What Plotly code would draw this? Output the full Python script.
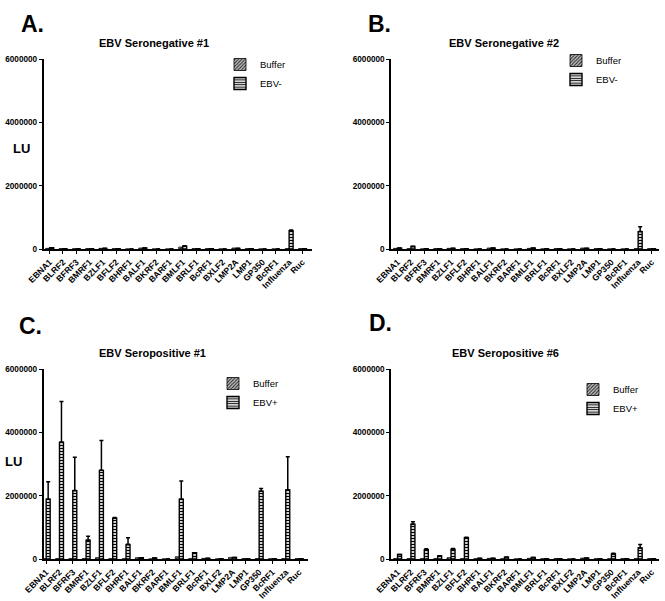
import plotly.graph_objects as go

categories = ["EBNA1", "BLRF2", "BFRF3", "BMRF1", "BZLF1", "BFLF2", "BHRF1", "BALF1",
              "BKRF2", "BARF1", "BMLF1", "BRLF1", "BcRF1", "BXLF2", "LMP2A", "LMP1",
              "GP350", "BcRF1", "Influenza", "Ruc"]

# Panel A: EBV Seronegative #1
buffer_A = [20000, 10000, 5000, 10000, 20000, 10000, 0, 30000, 0, 0,
            60000, 10000, 10000, 0, 30000, 10000, 0, 0, 10000, 10000]
ebv_A = [40000, 10000, 5000, 10000, 20000, 10000, 0, 30000, 0, 0,
         90000, 10000, 10000, 0, 20000, 10000, 0, 0, 580000, 10000]
err_A = [0, 0, 0, 0, 0, 0, 0, 0, 0, 0, 10000, 0, 0, 0, 0, 0, 0, 0, 20000, 0]

# Panel B: EBV Seronegative #2
buffer_B = [20000, 10000, 0, 10000, 20000, 10000, 0, 30000, 0, 0,
            20000, 0, 10000, 0, 30000, 10000, 0, 0, 10000, 10000]
ebv_B = [30000, 80000, 5000, 10000, 20000, 5000, 0, 30000, 0, 0,
         30000, 5000, 10000, 0, 20000, 10000, 0, 0, 550000, 10000]
err_B = [0, 10000, 0, 0, 0, 0, 0, 0, 0, 0, 0, 0, 0, 0, 0, 0, 0, 0, 150000, 0]

# Panel C: EBV Seropositive #1
buffer_C = [10000, 10000, 10000, 10000, 40000, 10000, 5000, 40000, 0, 0,
            70000, 10000, 20000, 0, 50000, 10000, 10000, 5000, 10000, 10000]
ebv_C = [1890000, 3690000, 2160000, 590000, 2800000, 1290000, 460000, 40000, 30000, 0,
         1890000, 200000, 20000, 5000, 50000, 10000, 2140000, 5000, 2180000, 10000]
err_C = [550000, 1280000, 1050000, 130000, 940000, 20000, 210000, 0, 0, 0,
         570000, 0, 0, 0, 0, 0, 90000, 0, 1050000, 0]

# Panel D: EBV Seropositive #6
buffer_D = [10000, 10000, 10000, 10000, 40000, 10000, 5000, 20000, 5000, 0,
            20000, 5000, 10000, 0, 30000, 5000, 5000, 10000, 10000, 10000]
ebv_D = [140000, 1100000, 290000, 100000, 310000, 670000, 20000, 20000, 60000, 0,
         50000, 5000, 10000, 0, 30000, 5000, 160000, 5000, 350000, 10000]
err_D = [0, 80000, 30000, 0, 20000, 20000, 0, 0, 0, 0,
         0, 0, 0, 0, 0, 0, 20000, 0, 110000, 0]

y_ticks = [0, 2000000, 4000000, 6000000]

W, H = 665, 601
FONT = "Arial, Liberation Sans, sans-serif"


def px(x):
    return x / W


def py(y):
    return 1 - y / H


panels = [
    dict(key="", buf=buffer_A, ebv=ebv_A, err=err_A, name="EBV-", title="EBV Seronegative #1",
         letter="A.", x0=43.5, x1=312, y0=59, y1=249, r0=-0.465, r1=19.72,
         leg=(220, 50), letpos=(32, 24), titlepos=(154, 43), lu=(22, 148)),
    dict(key="2", buf=buffer_B, ebv=ebv_B, err=err_B, name="EBV-", title="EBV Seronegative #2",
         letter="B.", x0=391, x1=659, y0=59, y1=249, r0=-0.49, r1=19.56,
         leg=(556, 46), letpos=(379, 24), titlepos=(504, 43), lu=None),
    dict(key="3", buf=buffer_C, ebv=ebv_C, err=err_C, name="EBV+", title="EBV Seropositive #1",
         letter="C.", x0=43.5, x1=308, y0=369, y1=559, r0=-0.2, r1=19.67,
         leg=(213, 369), letpos=(30, 326), titlepos=(152, 353), lu=(13, 461)),
    dict(key="4", buf=buffer_D, ebv=ebv_D, err=err_D, name="EBV+", title="EBV Seropositive #6",
         letter="D.", x0=391, x1=659, y0=369, y1=559, r0=-0.49, r1=19.56,
         leg=(573, 375), letpos=(380, 323), titlepos=(505, 353), lu=None),
]

fig = go.Figure()
annotations = []
layout = {}
xs = list(range(len(categories)))

for i, p in enumerate(panels):
    k = p["key"]
    xa = "x" + k
    ya = "y" + k
    legname = "legend" + k
    fig.add_trace(go.Bar(
        x=xs, y=p["buf"], name="Buffer", xaxis=xa, yaxis=ya, legend=legname,
        marker=dict(color="#9a9a9a", line=dict(color="black", width=0.8),
                    pattern=dict(shape="/", fgcolor="#333333", bgcolor="#cfcfcf", size=3, solidity=0.5)),
    ))
    fig.add_trace(go.Bar(
        x=xs, y=p["ebv"], name=p["name"], xaxis=xa, yaxis=ya, legend=legname,
        marker=dict(color="white", line=dict(color="black", width=1.4),
                    pattern=dict(shape="-", fgcolor="black", bgcolor="white", size=3, solidity=0.45)),
        error_y=dict(type="data", symmetric=False, array=p["err"], arrayminus=[0] * len(xs),
                     color="black", thickness=1.5, width=2),
    ))
    layout["xaxis" + k] = dict(
        domain=[px(p["x0"]), px(p["x1"])], anchor=ya, range=[p["r0"], p["r1"]],
        tickmode="array", tickvals=xs, ticktext=categories, tickangle=-45,
        tickfont=dict(family=FONT, size=8.6, color="black", weight="bold"),
        showline=True, linecolor="black", linewidth=1.5, ticks="outside", ticklen=3,
        tickwidth=1.2, tickcolor="black", showgrid=False, zeroline=False, fixedrange=True,
        automargin=False,
    )
    layout["yaxis" + k] = dict(
        domain=[py(p["y1"]), py(p["y0"])], anchor=xa, range=[0, 6000000],
        tickmode="array", tickvals=y_ticks, ticktext=[str(v) for v in y_ticks],
        tickfont=dict(family=FONT, size=8.2, color="black", weight="bold"),
        showline=True, linecolor="black", linewidth=1.5, ticks="outside", ticklen=3,
        tickwidth=1.2, tickcolor="black", showgrid=False, zeroline=False, fixedrange=True,
        automargin=False,
    )
    layout[legname] = dict(
        x=px(p["leg"][0]), y=py(p["leg"][1]), xanchor="left", yanchor="top",
        bgcolor="rgba(0,0,0,0)", font=dict(family=FONT, size=9.5, color="black"),
        tracegroupgap=0, itemwidth=30,
    )
    annotations.append(dict(text=p["title"], x=px(p["titlepos"][0]), y=py(p["titlepos"][1]),
                            xref="paper", yref="paper", showarrow=False, xanchor="center", yanchor="middle",
                            font=dict(family=FONT, size=11, color="black", weight="bold")))
    annotations.append(dict(text=p["letter"], x=px(p["letpos"][0]), y=py(p["letpos"][1]),
                            xref="paper", yref="paper", showarrow=False, xanchor="center", yanchor="middle",
                            font=dict(family=FONT, size=23, color="black", weight="bold")))
    if p["lu"]:
        annotations.append(dict(text="LU", x=px(p["lu"][0]), y=py(p["lu"][1]),
                                xref="paper", yref="paper", showarrow=False, xanchor="center", yanchor="middle",
                                font=dict(family=FONT, size=13, color="black", weight="bold")))

fig.update_layout(
    template="none",
    width=W, height=H, margin=dict(l=0, r=0, t=0, b=0, autoexpand=False),
    paper_bgcolor="white", plot_bgcolor="white",
    barmode="group", bargap=0.4, bargroupgap=0,
    showlegend=True, annotations=annotations,
    font=dict(family=FONT, color="black"),
    **layout,
)

# remove the browser's default body margin so the 665x601 figure fills the window exactly
fig.write_html("out.html", config={"displayModeBar": False},
               post_script="document.body.style.margin='0';document.body.style.overflow='hidden';")
